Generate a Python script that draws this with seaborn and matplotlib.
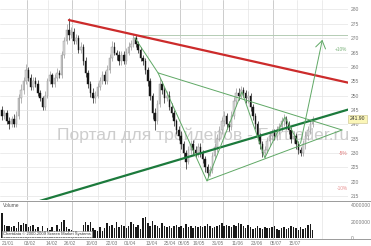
import matplotlib
matplotlib.use("Agg")
import matplotlib.pyplot as plt
import matplotlib.transforms as mtransforms
from matplotlib.lines import Line2D
import numpy as np
import pandas as pd
import seaborn as sns

# ---------------- data ----------------
opens = [245, 243, 244, 241, 240, 242, 240, 243, 249, 252, 255, 259, 256, 253, 255, 254, 251, 249, 246, 250,
         255, 257, 254, 256, 258, 257, 264, 269, 273, 271, 272, 269, 270, 266, 267, 262, 258, 254, 251, 249,
         250, 253, 255, 257, 255, 259, 263, 267, 265, 264, 262, 264, 262, 265, 267, 268, 270, 268, 266, 263,
         262, 259, 255, 250, 244, 241, 247, 254, 252, 249, 250, 246, 244, 241, 238, 236, 233, 230, 227, 231,
         233, 231, 230, 232, 230, 228, 225, 223, 224, 229, 232, 235, 238, 241, 243, 240, 239, 243, 248, 251,
         250, 252, 251, 249, 250, 246, 243, 240, 236, 233, 230, 231, 234, 236, 237, 236, 238, 239, 241, 242,
         240, 238, 235, 236, 233, 231, 230, 233, 236, 238, 240]
highs = [246.5, 245, 245, 242.5, 243, 243.5, 244.5, 250.5, 254, 256.5, 261, 260, 257.5, 256.5, 256.5, 255.5, 252, 250, 251.5, 256,
         258.5, 258, 257.5, 259.5, 259, 265.5, 270.5, 275, 277, 274, 273.5, 271.5, 271, 268.5, 268, 263.5, 259, 255, 252.5, 251.5,
         254.5, 256.5, 258.5, 258.5, 260.5, 264.5, 269, 268.5, 266, 265.5, 265.5, 265.5, 266.5, 268.5, 269.5, 271.5, 271, 269, 267, 264,
         263, 260, 256, 251, 245.5, 248.5, 256, 255, 253, 251.5, 251.5, 247.5, 245, 242, 239.5, 237.5, 234, 231, 232.5, 234.5,
         234.5, 232.5, 233.5, 233.5, 231, 229, 226, 225.5, 230.5, 233.5, 236.5, 239.5, 242.5, 244.5, 244, 241, 244.5, 249.5, 252.5, 252.5,
         253.5, 253, 252, 251.5, 251, 247, 244, 241, 237, 234, 232.5, 235.5, 237.5, 238.5, 238.5, 239.5, 240.5, 242.5, 243.5, 243,
         241, 239, 237.5, 237, 234, 232, 234.5, 237.5, 239.5, 241.5, 243]
lows = [241.5, 242, 240, 238.5, 239, 239, 239, 242, 247.5, 250.5, 254, 255, 252, 252, 253, 250, 248, 245, 245, 249,
        254, 253, 253, 255, 256, 256, 263, 268, 269.5, 270, 268, 268, 265, 265, 260.5, 256.5, 252.5, 249.5, 247.5, 247.5,
        249, 252, 254, 254, 254, 258, 262, 264, 262.5, 260.5, 260.5, 261, 261, 264, 266, 267, 267, 265, 262, 260.5,
        257.5, 253.5, 248.5, 242, 238, 240, 246, 250.5, 247.5, 248, 245, 242.5, 239.5, 236.5, 234.5, 231.5, 228.5, 224.5, 226, 229.5,
        229.5, 228.5, 228.5, 228.5, 226.5, 223.5, 221.5, 222, 223, 228, 230.5, 234, 236.5, 239.5, 238.5, 237.5, 238, 242, 246.5, 248.5,
        249, 249.5, 247.5, 247.5, 244.5, 241.5, 238.5, 234.5, 231.5, 228.5, 228.5, 230, 232.5, 234.5, 234.5, 234.5, 236.5, 237.5, 239.5, 238.5,
        236.5, 233.5, 233.5, 231.5, 229.5, 229, 229, 231.5, 234.5, 236.5, 239]
closes = [243, 244, 241, 240, 242, 240, 243, 249, 252, 255, 259, 256, 253, 255, 254, 251, 249, 246, 250, 255,
          257, 254, 256, 258, 257, 264, 269, 273, 271, 272, 269, 270, 266, 267, 262, 258, 254, 251, 249, 250,
          253, 255, 257, 255, 259, 263, 267, 265, 264, 262, 264, 262, 265, 267, 268, 270, 268, 266, 263, 262,
          259, 255, 250, 244, 241, 247, 254, 252, 249, 250, 246, 244, 241, 238, 236, 233, 230, 227, 231, 233,
          231, 230, 232, 230, 228, 225, 223, 224, 229, 232, 235, 238, 241, 243, 240, 239, 243, 248, 251, 250,
          252, 251, 249, 250, 246, 243, 240, 236, 233, 230, 231, 234, 236, 237, 236, 238, 239, 241, 242, 240,
          238, 235, 236, 233, 231, 230, 233, 236, 238, 240, 241.9]
volume_mln = [3.0, 1.6, 1.5, 1.5, 1.3, 1.4, 1.2, 2.0, 1.6, 1.8, 1.7, 1.3, 1.4, 1.6, 1.1, 1.3, 0.9, 1.4, 0.9, 1.2,
              1.0, 1.3, 0.8, 1.6, 1.1, 1.9, 2.2, 1.3, 1.1, 1.0, 0.9, 0.8, 0.7, 0.6, 1.6, 1.9, 1.6, 1.9, 1.2, 1.0,
              0.9, 1.3, 0.9, 1.2, 1.8, 1.4, 1.6, 1.2, 1.9, 1.3, 1.6, 1.4, 1.2, 1.5, 1.9, 1.7, 1.3, 1.6, 1.1, 2.4,
              2.6, 1.8, 1.5, 2.1, 1.6, 1.4, 1.2, 1.8, 1.5, 1.3, 1.5, 1.2, 1.4, 1.6, 1.3, 1.5, 1.2, 1.7, 1.3, 1.4,
              1.2, 1.4, 1.3, 1.5, 1.3, 1.4, 1.7, 1.4, 1.2, 1.3, 1.5, 1.6, 1.8, 1.4, 1.6, 1.5, 1.3, 1.6, 1.4, 1.8,
              1.7, 1.5, 1.2, 1.6, 1.3, 1.1, 1.2, 1.4, 1.2, 1.1, 1.3, 1.2, 1.2, 1.3, 1.5, 1.1, 1.0, 1.2, 1.3, 1.1,
              1.2, 1.4, 1.3, 1.2, 1.0, 1.3, 1.1, 1.2, 1.6, 1.7, 1.0]

x_tick_labels = ["21/01", "03/02", "14/02", "26/02", "10/03", "22/03", "01/04", "13/04", "25/04",
                 "06/05", "19/05", "31/05", "11/06", "23/06", "05/07", "15/07"]
price_ticks = [215, 220, 225, 230, 235, 240, 245, 250, 255, 260, 265, 270, 275, 280]
vol_ticks = [0, 2000000, 4000000]
vol_tick_labels = ["0", "2000000", "4000000"]
last_close = 241.90
pct_levels = [10, -5, -10]
pct_labels = ["+10%", "-5%", "-10%"]

# annotation drawings (bar index, price)
red_line = ([28.0, 144.8], [276.3, 254.5])
green_thick = ([15.9, 144.8], [213.3, 245.1])
tri_upper = ([65.3, 142.3], [257.9, 238.0])
tri_lower = ([85.8, 142.3], [220.4, 238.0])
zigzag_x = [55.6, 65.3, 85.8, 100.4, 110.0, 118.4, 124.7]
zigzag_y = [270.1, 257.9, 220.2, 251.3, 228.3, 242.5, 232.4]
arrow_from = (124.7, 232.4)
arrow_to = (134.3, 270.4)
target_level = 271.1
target_from = 55.6

# ---------------- layout ----------------
tick_pos = [2.6, 11.7, 20.8, 28.5, 37.5, 45.9, 53.6, 62.6, 70.3, 76.2, 82.4, 90.4, 98.5, 106.7, 114.6, 122.6]
month_major = [10.5, 29.3, 51.5, 74.5, 92.5, 113.4]
month_minor = [19.2, 40.2, 61.1, 83.5, 103.0, 123.5, 134.0]

sns.set_theme(style="white")
plt.rcParams["font.family"] = ["Liberation Sans", "DejaVu Sans"]

W, H = 371, 246
fig = plt.figure(figsize=(W / 100, H / 100), dpi=100)
fig.patch.set_facecolor("white")
right = 348 / W
axp = fig.add_axes([0, 1 - 200 / H, right, 200 / H])
axv = fig.add_axes([0, 1 - 239 / H, right, 38 / H])

df = pd.DataFrame({"i": np.arange(len(closes)), "open": opens, "high": highs,
                   "low": lows, "close": closes, "volume": np.array(volume_mln) * 1e6})

XL = (-0.84, 144.8)
grid_c = "#e4e4e4"
major_c = "#c4c4c4"

# ---- volume panel (categorical positions 0..n-1 == bar index) ----
sns.barplot(data=df, x="i", y="volume", color="#1a1a1a", saturation=1,
            width=0.62, ax=axv, errorbar=None, linewidth=0, zorder=3)

for ax in (axp, axv):
    ax.set_facecolor("white")
    for s in ax.spines.values():
        s.set_visible(False)
    for m in month_major:
        ax.axvline(m, color=major_c, lw=0.6, zorder=0)
    for m in month_minor:
        ax.axvline(m, color=grid_c, lw=0.5, zorder=0)

# ---- price panel ----
for p in price_ticks:
    axp.axhline(p, color=grid_c, lw=0.5, zorder=0)

axp.text(84.0, 236.3, "Портал для трейдеров - Fortrader.ru", ha="center", va="center",
         fontsize=12.6, color="#cdcdcd", zorder=1)

up = df[df["close"] >= df["open"]]
dn = df[df["close"] < df["open"]]
axp.vlines(up["i"], up["low"], up["high"], color="#a0a0a0", lw=0.55, zorder=3)
axp.vlines(dn["i"], dn["low"], dn["high"], color="#303030", lw=0.55, zorder=3)
axp.bar(up["i"], (up["close"] - up["open"]).clip(lower=0.4), bottom=up["open"], width=0.62,
        color="#d8d8d8", edgecolor="#909090", lw=0.3, zorder=4)
axp.bar(dn["i"], (dn["open"] - dn["close"]), bottom=dn["close"], width=0.62,
        color="#151515", edgecolor="#151515", lw=0.3, zorder=4)

thin_g = "#5fa865"
sns.lineplot(x=red_line[0], y=red_line[1], ax=axp, color="#cc2b2b", lw=1.6, zorder=5)
sns.lineplot(x=green_thick[0], y=green_thick[1], ax=axp, color="#1c7a3c", lw=1.6, zorder=5)
axp.plot(tri_upper[0], tri_upper[1], color=thin_g, lw=0.7, zorder=5)
axp.plot(tri_lower[0], tri_lower[1], color=thin_g, lw=0.7, zorder=5)
axp.plot(zigzag_x, zigzag_y, color=thin_g, lw=0.7, zorder=5)
axp.plot([target_from, XL[1]], [target_level, target_level], color="#b4ccb4", lw=0.7, zorder=2)
axp.annotate("", xy=arrow_to, xytext=arrow_from,
             arrowprops=dict(arrowstyle="->,head_length=0.45,head_width=0.3", color=thin_g, lw=0.7),
             zorder=6)

pct_colors = ["#78b078", "#e07878", "#e89090"]
for lv, lab, c in zip(pct_levels, pct_labels, pct_colors):
    axp.text(XL[1] - 0.3, last_close * (1 + lv / 100), lab, ha="right", va="center",
             fontsize=3.4, color=c, zorder=6)

axp.set_xlim(*XL)
axp.set_ylim(213.6, 283.3)
axp.set_xticks([])
axp.yaxis.tick_right()
axp.set_yticks(price_ticks)
axp.set_yticklabels([str(p) for p in price_ticks])
axp.tick_params(axis="y", length=0, pad=1.8, labelsize=3.6, labelcolor="#7a7a7a")
axp.set_xlabel("")
axp.set_ylabel("")

trans = mtransforms.blended_transform_factory(axp.transAxes, axp.transData)
axp.text(1.004, last_close, "241.90", transform=trans, ha="left", va="center", fontsize=3.6,
         color="#333333", zorder=7, clip_on=False,
         bbox=dict(boxstyle="square,pad=0.35", facecolor="#fbf6b8", edgecolor="#c8c08a", lw=0.4))

axv.set_xlim(*XL)
axv.set_ylim(-0.12e6, 4.485e6)
axv.yaxis.tick_right()
axv.set_yticks(vol_ticks)
axv.set_yticklabels(vol_tick_labels)
axv.tick_params(axis="y", length=0, pad=1.8, labelsize=3.6, labelcolor="#7a7a7a")
axv.set_xticks(tick_pos)
axv.set_xticklabels(x_tick_labels)
axv.tick_params(axis="x", length=0, pad=1.2, labelsize=3.5, labelcolor="#7a7a7a")
axv.set_xlabel("")
axv.set_ylabel("")
axv.text(0.008, 0.88, "Volume", transform=axv.transAxes, fontsize=3.5, color="#555555",
         ha="left", va="center")
axv.text(0.008, 0.12, "Chartdata \u00a9 2000-2009 Screen Market Systems", transform=axv.transAxes,
         fontsize=3.0, color="#333333", ha="left", va="center", zorder=8,
         bbox=dict(boxstyle="square,pad=0.25", facecolor="white", edgecolor="#888888", lw=0.4))

# separators spanning full width
for ypx in (201, 239):
    fig.add_artist(Line2D([0, 1], [1 - ypx / H, 1 - ypx / H], transform=fig.transFigure,
                          color="#9a9a9a", lw=0.7))

fig.savefig("out.png", dpi=100, facecolor="white")
